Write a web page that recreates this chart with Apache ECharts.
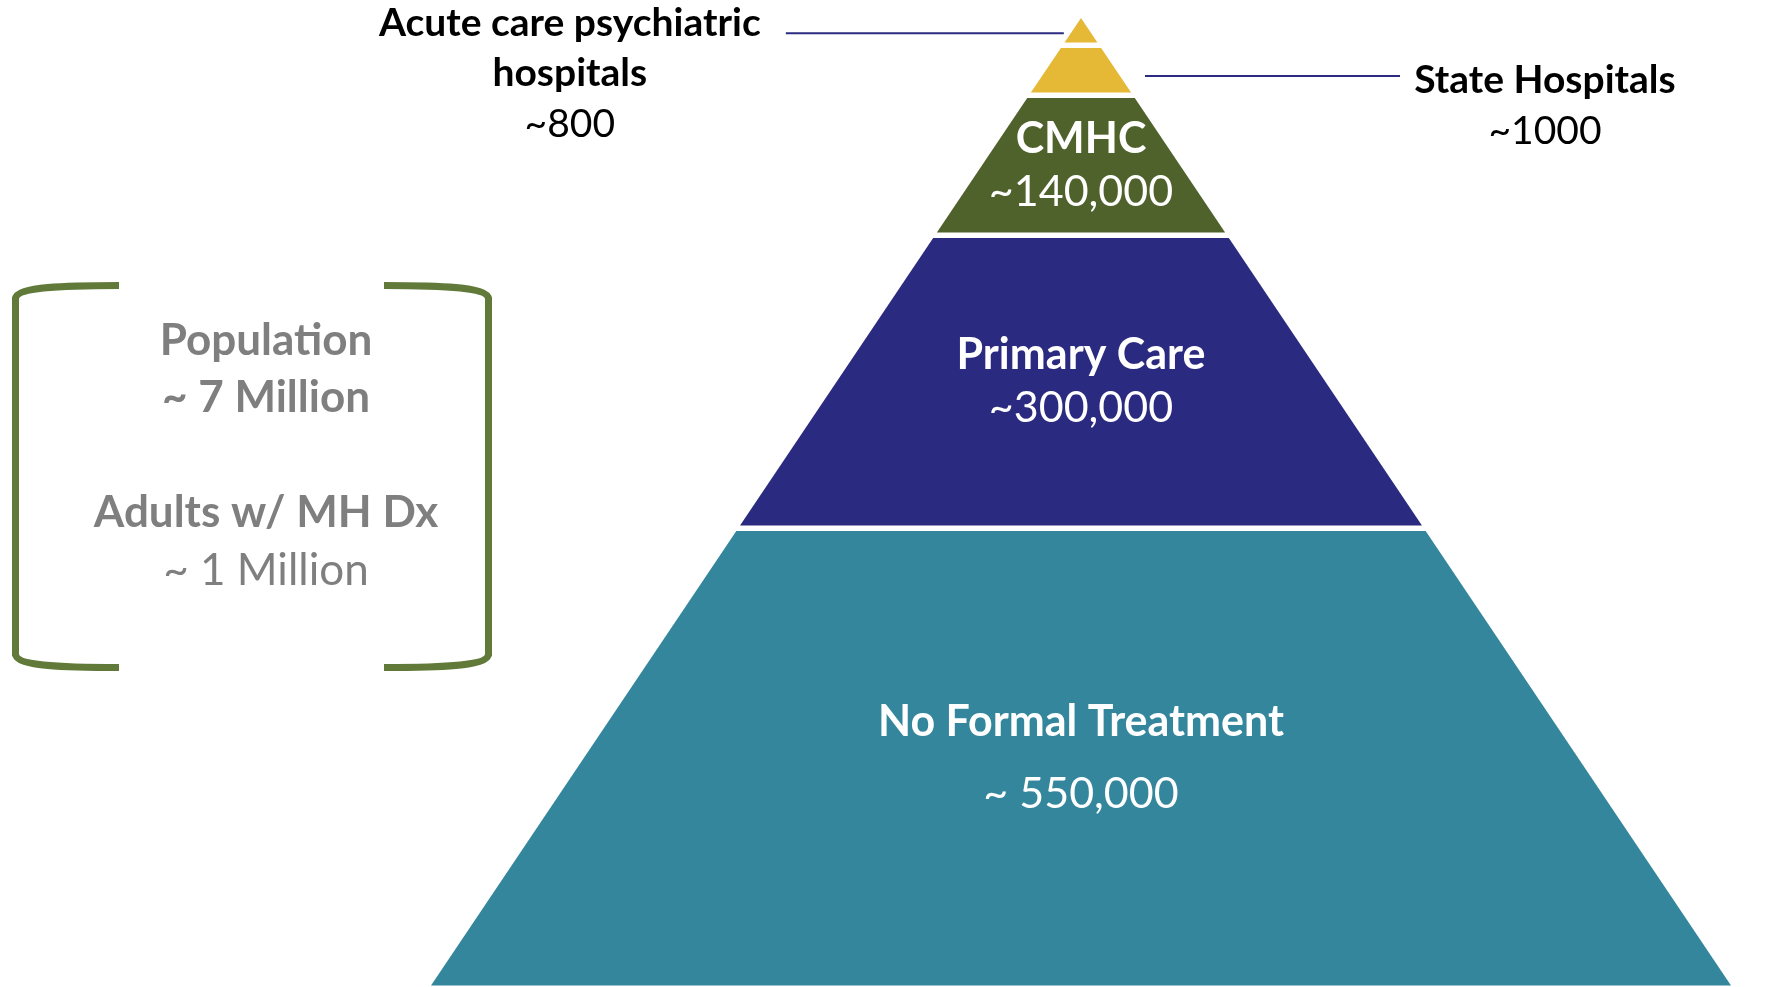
<!DOCTYPE html>
<html>
<head>
<meta charset="utf-8">
<script src="https://cdn.jsdelivr.net/npm/echarts@6/dist/echarts.min.js"></script>
<style>
  html, body { margin: 0; padding: 0; background: #ffffff; }
  #chart { width: 1766px; height: 987px; }
</style>
</head>
<body>
<div id="chart"></div>
<script>
// ---- data (bottom layer first) ----
const layerNames = ['No Formal Treatment', 'Primary Care', 'CMHC', 'State Hospitals', 'Acute care psychiatric\nhospitals'];
const layerCounts = [550000, 300000, 140000, 1000, 800];
const layerCountLabels = ['~ 550,000', '~300,000', '~140,000', '~1000', '~800'];
// top edge of each layer, as % of the pyramid's height (bottom of a layer = top of the previous one)
const layerTops = [47.26, 77.54, 92.01, 97.19, 100];
const summaryLines = ['Population', '~ 7 Million', '', 'Adults w/ MH Dx', '~ 1 Million'];

// ---- styles ----
const FONT = 'Lato';
const layerColors = ['#33869c', '#2a2a80', '#4f622b', '#e5b836', '#e5b836'];
const GAP = 5.5;
const insideLineHeight = [72, 53, 53];
const outsideLayout = {
  3: { side: 'right', frac: 0.63, edgeGap: 25, length: 255, textOffset: 145, textDy: -21 },
  4: { side: 'left', frac: 0.62, edgeGap: 7, length: 278, textOffset: 216, textDy: -35.5 }
};

const chart = echarts.init(document.getElementById('chart'));

const seriesData = layerNames.map((n, i) => ({
  name: n,
  value: [i === 0 ? 0 : layerTops[i - 1], layerTops[i], layerCounts[i], i]
}));

function renderItem(params, api) {
  const i = api.value(3);
  const lo = api.value(0), hi = api.value(1);
  const apex = api.coord([0, 100]);
  const bl = api.coord([-1, 0]);
  const slope = (apex[0] - bl[0]) / (bl[1] - apex[1]);
  const cx = apex[0];
  let yB = api.coord([0, lo])[1];
  let yT = api.coord([0, hi])[1];
  if (lo > 0) yB -= GAP / 2;
  if (hi < 100) yT += GAP / 2;
  const hw = y => (y - apex[1]) * slope;
  const pts = [[cx - hw(yB), yB], [cx + hw(yB), yB], [cx + hw(yT), yT], [cx - hw(yT), yT]];
  const children = [{
    type: 'polygon',
    shape: { points: pts },
    style: { fill: layerColors[i] }
  }];
  if (i < 3) {
    const lh = insideLineHeight[i];
    children.push({
      type: 'text',
      style: {
        x: cx, y: (yB + yT) / 2,
        align: 'center', verticalAlign: 'middle',
        text: '{n|' + layerNames[i] + '}\n{v|' + layerCountLabels[i] + '}',
        rich: {
          n: { fontFamily: FONT, fontWeight: 'bold', fontSize: 43, lineHeight: lh, fill: '#ffffff', align: 'center' },
          v: { fontFamily: FONT, fontWeight: 'normal', fontSize: 43, lineHeight: lh, fill: '#ffffff', align: 'center' }
        }
      }
    });
  } else {
    const L = outsideLayout[i];
    const ly = yT + (yB - yT) * L.frac;
    const edge = hw(ly);
    let x1, x2, tx;
    if (L.side === 'left') {
      x1 = cx - edge - L.edgeGap; x2 = x1 - L.length; tx = x2 - L.textOffset;
    } else {
      x1 = cx + edge + L.edgeGap; x2 = x1 + L.length; tx = x2 + L.textOffset;
    }
    children.push({
      type: 'line',
      shape: { x1: x1, y1: ly, x2: x2, y2: ly },
      style: { stroke: '#2b2b80', lineWidth: 2 }
    });
    const nameLines = layerNames[i].split('\n').map(s => '{n|' + s + '}').join('\n');
    children.push({
      type: 'text',
      style: {
        x: tx, y: ly + L.textDy,
        align: 'center', verticalAlign: 'top',
        text: nameLines + '\n{v|' + layerCountLabels[i] + '}',
        rich: {
          n: { fontFamily: FONT, fontWeight: 'bold', fontSize: 39, lineHeight: 50.6, fill: '#000000', align: 'center' },
          v: { fontFamily: FONT, fontWeight: 'normal', fontSize: 39, lineHeight: 50.6, fill: '#000000', align: 'center' }
        }
      }
    });
  }
  return { type: 'group', children: children };
}

const bracketColor = '#617a3a';
const bStyle = { stroke: bracketColor, lineWidth: 7, fill: null };
function bracket(xEdge, xEnd) {
  return {
    type: 'group',
    children: [
      { type: 'bezierCurve', shape: { x1: xEnd, y1: 285.5, cpx1: (xEnd + xEdge) / 2, cpy1: 285.5, cpx2: xEdge, cpy2: 286.5, x2: xEdge, y2: 299 }, style: bStyle },
      { type: 'line', shape: { x1: xEdge, y1: 297, x2: xEdge, y2: 656 }, style: bStyle },
      { type: 'bezierCurve', shape: { x1: xEdge, y1: 654, cpx1: xEdge, cpy1: 666.5, cpx2: (xEnd + xEdge) / 2, cpy2: 667.5, x2: xEnd, y2: 667.5 }, style: bStyle }
    ]
  };
}

const option = {
  backgroundColor: '#ffffff',
  animation: false,
  grid: { left: 431, width: 1300, top: 18, bottom: 1.5 },
  xAxis: { type: 'value', min: -1, max: 1, show: false },
  yAxis: { type: 'value', min: 0, max: 100, show: false },
  series: [{
    type: 'custom',
    renderItem: renderItem,
    data: seriesData,
    silent: true
  }],
  graphic: [
    bracket(15.5, 119),
    bracket(488.5, 384),
    {
      type: 'text',
      style: {
        x: 266, y: 455.5,
        align: 'center', verticalAlign: 'middle',
        text: '{b|' + summaryLines[0] + '}\n{b|' + summaryLines[1] + '}\n{e| }\n{b|' + summaryLines[3] + '}\n{r|' + summaryLines[4] + '}',
        rich: {
          b: { fontFamily: FONT, fontWeight: 'bold', fontSize: 44, lineHeight: 57.5, fill: '#7f7f7f', align: 'center' },
          r: { fontFamily: FONT, fontWeight: 'normal', fontSize: 44, lineHeight: 57.5, fill: '#7f7f7f', align: 'center' },
          e: { fontFamily: FONT, fontSize: 44, lineHeight: 57.5, fill: '#7f7f7f' }
        }
      }
    }
  ]
};
chart.setOption(option);
</script>
</body>
</html>
